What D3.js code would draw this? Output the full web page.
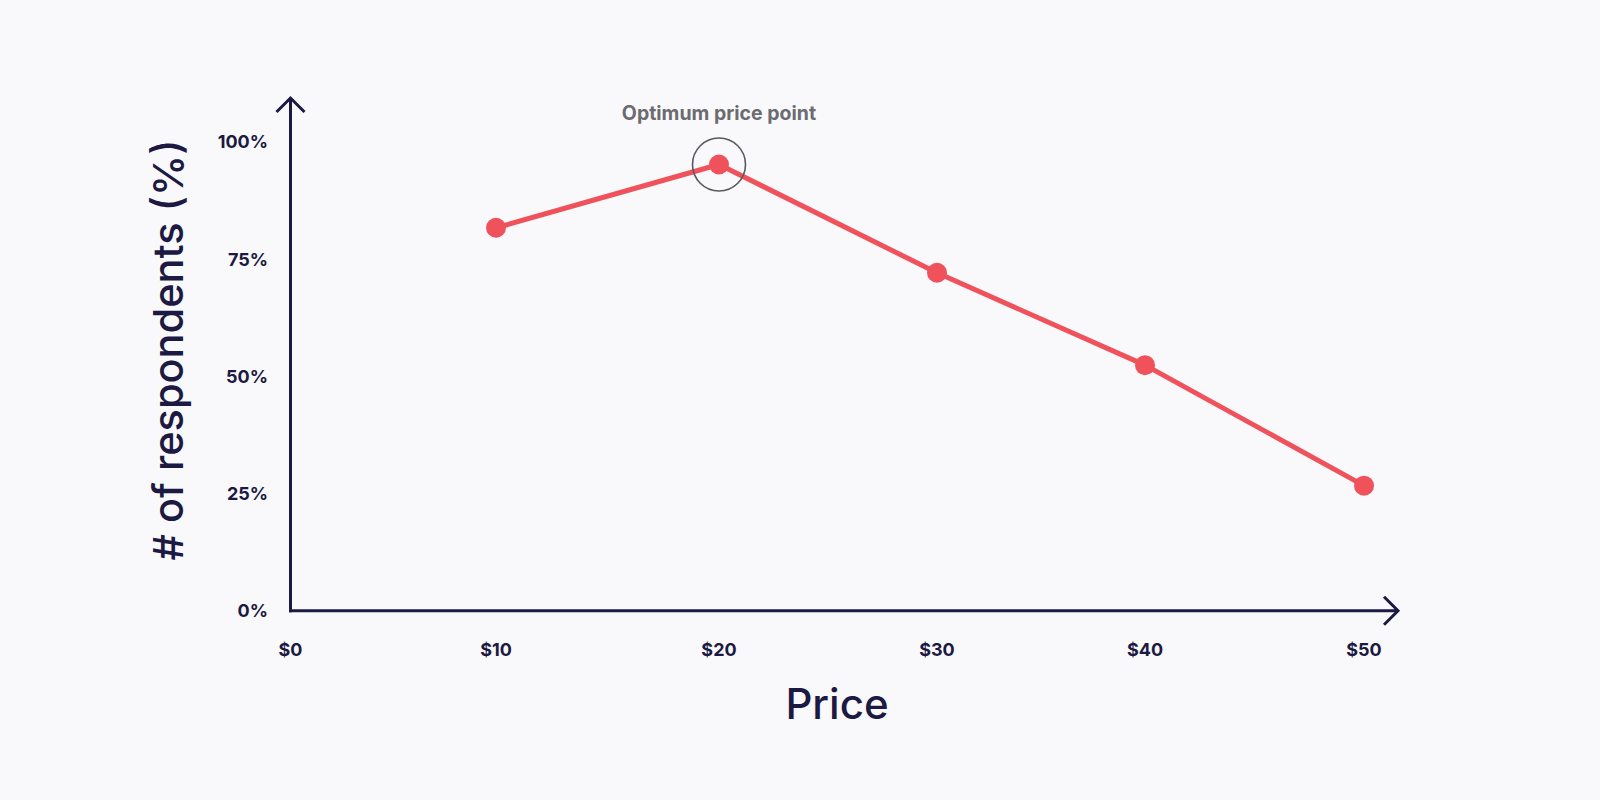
<!DOCTYPE html>
<html>
<head>
<meta charset="utf-8">
<script src="https://cdn.jsdelivr.net/npm/d3@7"></script>
<style>
  html, body { margin: 0; padding: 0; background: #f9f9fc; }
  svg { display: block; }
</style>
</head>
<body>
<svg id="chart" width="1600" height="800"></svg>
<script>
// ---- data ----
const prices = [10, 20, 30, 40, 50];
const respondents = [81.7, 95.2, 72.1, 52.4, 26.7];
const xTickValues = [0, 10, 20, 30, 40, 50];
const xTickLabels = ["$0", "$10", "$20", "$30", "$40", "$50"];
const yTickValues = [0, 25, 50, 75, 100];
const yTickLabels = ["0%", "25%", "50%", "75%", "100%"];
const optimumPrice = 20;
const annotationText = "Optimum price point";
const xTitle = "Price";
const yTitle = "# of respondents (%)";

// ---- style ----
const navy = "#1c1a42";
const red = "#f0525c";
const font = "Inter, 'Liberation Sans', sans-serif";

const svg = d3.select("#chart");
svg.append("rect").attr("width", 1600).attr("height", 800).attr("fill", "#f9f9fc");

// the reference's price axis is not evenly spaced; a piecewise-linear scale follows it
const x = d3.scaleLinear().domain(xTickValues).range([290.5, 496, 719, 937, 1145, 1364]);
const y = d3.scaleLinear().domain([0, 100]).range([610.8, 142]);

// axes lines with arrows
const axisG = svg.append("g").attr("stroke", navy).attr("stroke-width", 3)
  .attr("fill", "none").attr("stroke-linecap", "butt");
const x0 = x(0), y0 = y(0);
const yTop = 97, xEnd = 1399;
axisG.append("path").attr("d", `M${x0},${y0 + 1.5}V${yTop + 1}`);
axisG.append("path").attr("d", `M${x0 - 1.5},${y0}H${xEnd - 1}`);
axisG.append("path").attr("stroke-linejoin", "miter")
  .attr("d", `M${x0 - 14},${yTop + 15}L${x0},${yTop + 1}L${x0 + 14},${yTop + 15}`);
axisG.append("path").attr("stroke-linejoin", "miter")
  .attr("d", `M${xEnd - 15},${y0 - 14}L${xEnd - 1},${y0}L${xEnd - 15},${y0 + 14}`);

// x tick labels
svg.append("g").selectAll("text").data(xTickValues).join("text")
  .attr("x", d => x(d)).attr("y", 656)
  .attr("text-anchor", "middle")
  .attr("font-family", font).attr("font-weight", 700).attr("font-size", 18)
  .attr("fill", navy)
  .text((d, i) => xTickLabels[i]);

// y tick labels
svg.append("g").selectAll("text").data(yTickValues).join("text")
  .attr("x", 268).attr("y", d => y(d))
  .attr("dy", "0.35em")
  .attr("text-anchor", "end")
  .attr("font-family", font).attr("font-weight", 700).attr("font-size", 18)
  .attr("fill", navy)
  .text((d, i) => yTickLabels[i]);

// axis titles
svg.append("text")
  .attr("x", 837).attr("y", 719)
  .attr("text-anchor", "middle")
  .attr("font-family", font).attr("font-weight", 500).attr("font-size", 42)
  .attr("fill", navy)
  .text(xTitle);

svg.append("text")
  .attr("transform", "translate(183,350) rotate(-90)")
  .attr("text-anchor", "middle")
  .attr("font-family", font).attr("font-weight", 500).attr("font-size", 41.5)
  .attr("fill", navy)
  .text(yTitle);

// line
const line = d3.line().x(d => x(d[0])).y(d => y(d[1]));
const pts = prices.map((p, i) => [p, respondents[i]]);
svg.append("path").datum(pts)
  .attr("d", line)
  .attr("fill", "none").attr("stroke", red).attr("stroke-width", 5)
  .attr("stroke-linejoin", "round");

svg.append("g").selectAll("circle").data(pts).join("circle")
  .attr("cx", d => x(d[0])).attr("cy", d => y(d[1]))
  .attr("r", 10).attr("fill", red);

// annotation
const optIdx = prices.indexOf(optimumPrice);
svg.append("circle")
  .attr("cx", x(optimumPrice)).attr("cy", y(respondents[optIdx]))
  .attr("r", 26.5).attr("fill", "none").attr("stroke", "#5a5a5e").attr("stroke-width", 1.6);

svg.append("text")
  .attr("x", x(optimumPrice)).attr("y", 113)
  .attr("dy", "0.35em")
  .attr("text-anchor", "middle")
  .attr("font-family", font).attr("font-weight", 700).attr("font-size", 19.5)
  .attr("fill", "#6b6b70")
  .text(annotationText);
</script>
</body>
</html>
